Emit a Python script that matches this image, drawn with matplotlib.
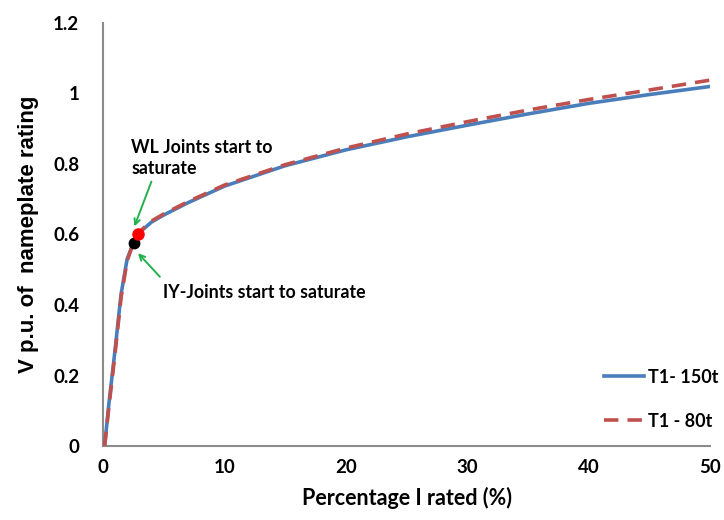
import matplotlib
matplotlib.use("Agg")
import matplotlib.pyplot as plt

plt.rcParams['font.family'] = ['Lato', 'DejaVu Sans']

x_pct = [0.15, 0.5, 1.0, 1.5, 2.0, 2.5, 3.0, 4, 5, 7, 10, 15, 20, 25, 30, 35, 40, 45, 50]
v_150t = [0.0, 0.12, 0.27, 0.43, 0.53, 0.575, 0.605, 0.635, 0.655, 0.69, 0.737, 0.795, 0.84, 0.877, 0.91, 0.942, 0.972, 0.997, 1.02]
v_80t = [0.0, 0.11, 0.26, 0.42, 0.525, 0.575, 0.607, 0.638, 0.658, 0.693, 0.74, 0.798, 0.845, 0.885, 0.92, 0.953, 0.983, 1.01, 1.038]

wl_point = (2.9, 0.60)
iy_point = (2.55, 0.577)

xticks = [0, 10, 20, 30, 40, 50]
yticks = [0, 0.2, 0.4, 0.6, 0.8, 1.0, 1.2]
ytick_labels = ['0', '0.2', '0.4', '0.6', '0.8', '1', '1.2']

fig = plt.figure(figsize=(7.24, 5.2), dpi=100)
ax = fig.add_axes([0.142, 0.1423, 0.839, 0.8135])

ax.plot(x_pct, v_150t, color='#4a7ebb', lw=2.6, label='T1- 150t', zorder=3)
ax.plot(x_pct, v_80t, color='#c0504d', lw=2.6, ls=(0, (4, 2.5)), label='T1 - 80t', zorder=4)

ax.plot(*iy_point, 'o', color='black', ms=7.5, zorder=5)
ax.plot(*wl_point, 'o', color='red', ms=8, zorder=5)

ax.set_xlim(0, 50)
ax.set_ylim(0, 1.2)
ax.set_xticks(xticks)
ax.set_xticklabels([str(t) for t in xticks])
ax.set_yticks(yticks)
ax.set_yticklabels(ytick_labels)
for lab in ax.get_xticklabels() + ax.get_yticklabels():
    lab.set_fontweight('bold')
    lab.set_fontsize(13.5)
ax.tick_params(length=0)
ax.tick_params(axis='x', pad=9)
ax.tick_params(axis='y', pad=17)

for s in ['top', 'right']:
    ax.spines[s].set_visible(False)
for s in ['left', 'bottom']:
    ax.spines[s].set_color('#8c8c8c')
    ax.spines[s].set_linewidth(1.5)

ax.set_xlabel('Percentage I rated (%)', fontsize=15.5, fontweight='bold', labelpad=8)
ax.set_ylabel('V p.u. of  nameplate rating', fontsize=16, fontweight='bold',
              family=['Liberation Sans', 'DejaVu Sans'], labelpad=10)

green = '#22b14c'
ax.annotate('', xy=(2.6, 0.623), xytext=(4.0, 0.75),
            arrowprops=dict(arrowstyle='->', color=green, lw=1.4, shrinkA=0, shrinkB=0))
ax.text(2.36, 0.817, 'WL Joints start to\nsaturate', fontsize=12.8, fontweight='bold',
        ha='left', va='center', linespacing=1.35)
ax.annotate('', xy=(2.9, 0.547), xytext=(4.7, 0.48),
            arrowprops=dict(arrowstyle='->', color=green, lw=1.4, shrinkA=0, shrinkB=0))
ax.text(4.97, 0.435, 'IY-Joints start to saturate', fontsize=12.8, fontweight='bold',
        ha='left', va='center')

leg = ax.legend(loc='lower right', bbox_to_anchor=(1.04, 0.0), frameon=False,
                fontsize=13, handlelength=2.2, labelspacing=1.5, handletextpad=0.2)
for t in leg.get_texts():
    t.set_fontweight('bold')

fig.savefig('out.png', dpi=100)
